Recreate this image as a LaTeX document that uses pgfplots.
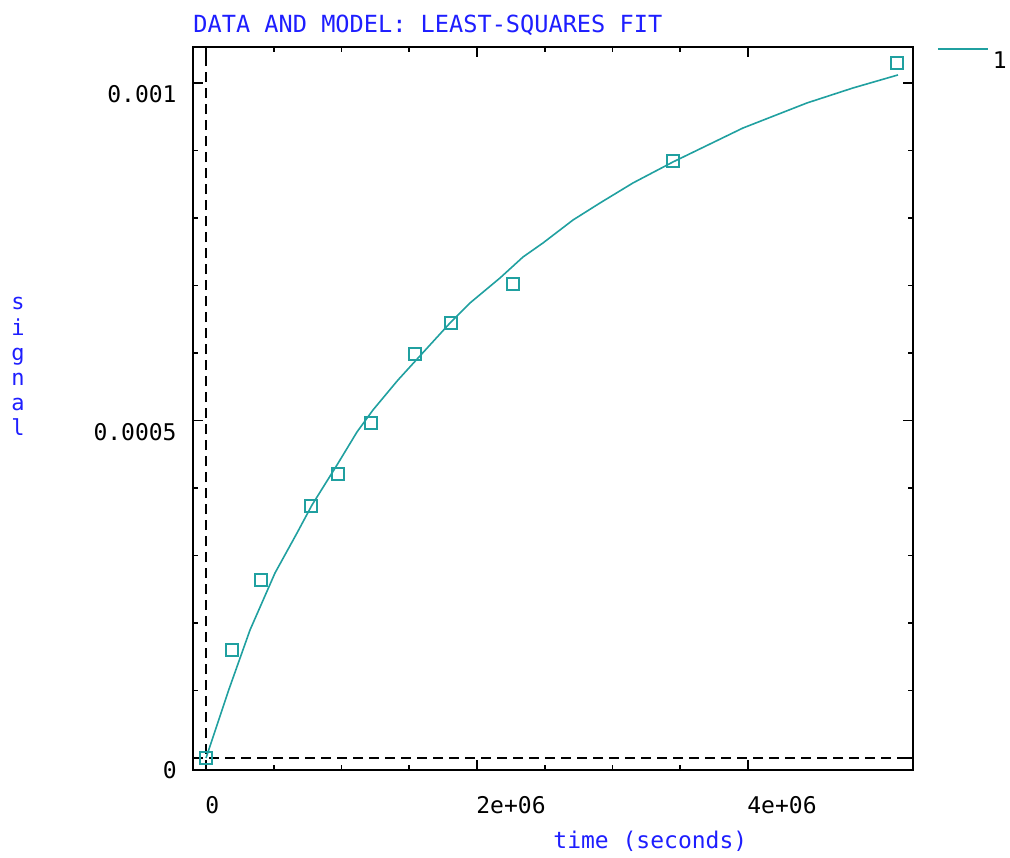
\documentclass[border=0pt]{standalone}
\usepackage{fontspec}
\setmainfont{DejaVu Sans Mono}
\usepackage{pgfplots}
\pgfplotsset{compat=1.18}
\definecolor{fitteal}{RGB}{32,160,160}
\definecolor{labblue}{RGB}{30,30,255}

\begin{document}
\begin{tikzpicture}
% picture is 1010x857 px at 0.5pt per px, origin at top left
\useasboundingbox (0,0) rectangle (505pt,-428.5pt);
\begin{axis}[
    at={(96.5pt,-385pt)}, anchor=south west,
    scale only axis,
    width=360pt, height=361.5pt,
    xmin=-96000, xmax=5218000,
    ymin=-1.778e-5, ymax=0.0010533,
    xtick={0,2000000,4000000},
    xticklabels={0,2e+06,4e+06},
    minor x tick num=3,
    ytick={0,0.0005,0.001},
    yticklabels={0,0.0005,0.001},
    minor y tick num=4,
    scaled ticks=false,
    tick align=inside,
    xtick pos=both, ytick pos=both,
    major tick length=5pt, minor tick length=2.5pt,
    axis line style={line width=1pt},
    every tick/.style={black, line width=0.8pt},
    /pgf/number format/assume math mode=true,
    font=\fontsize{11.5}{12}\selectfont,
    xticklabel style={anchor=base west, inner sep=0pt, yshift=-21.5pt, xshift=-0.5pt},
    yticklabel style={anchor=base east, inner sep=0pt, yshift=-10pt, xshift=-8pt},
    title={DATA AND MODEL: LEAST-SQUARES FIT},
    title style={labblue, at={(axis description cs:0,1.0028)}, anchor=base west, inner sep=0pt, font=\fontsize{11.8}{12}\selectfont},
    xlabel={time (seconds)},
    xlabel style={labblue, at={(axis description cs:0.5,-0.108)}, anchor=base west, inner sep=0pt},
    ylabel={s\\i\\g\\n\\a\\l},
    ylabel style={labblue, rotate=-90, align=center, at={(axis description cs:-0.243,0.654)}, anchor=north, inner sep=0pt, font=\fontsize{11}{12.6}\selectfont},
    legend style={at={(axis description cs:1.033,1.0)}, anchor=north west, draw=none, fill=none, inner sep=0pt, font=\fontsize{11.5}{12}\selectfont},
    legend image code/.code={\draw[#1] (0pt,6pt) -- (25pt,6pt);},
]
% zero lines
\addplot[black, line width=0.8pt, dash pattern=on 5pt off 3pt, forget plot] coordinates {(0,-1.778e-5) (0,0.0010533)};
\addplot[black, line width=0.8pt, dash pattern=on 5pt off 3pt, forget plot] coordinates {(-96000,0) (5218000,0)};
% data
\addplot[only marks, mark=square, mark size=3pt, fitteal, mark options={line width=1pt}, forget plot] coordinates {
(0,0) (191900,0.00016) (405900,0.0002637) (774900,0.0003733) (974200,0.0004207)
(1217700,0.0004963) (1542400,0.0005985) (1808100,0.0006444) (2265700,0.0007022)
(3446500,0.000884) (5099700,0.0010296)
};
% model
\addplot[fitteal, line width=0.8pt, no marks] coordinates {
(0,0) (162400,0.0000978) (324700,0.0001896) (509200,0.0002741) (671600,0.0003333)
(782300,0.0003748) (966800,0.0004341) (1114400,0.000483) (1232500,0.0005156)
(1417000,0.00056) (1800700,0.0006444) (1948300,0.0006741) (2169700,0.0007111)
(2339500,0.0007422) (2487100,0.000763) (2708500,0.000797) (2907700,0.0008222)
(3151300,0.0008519) (3446500,0.000883) (3963100,0.0009333) (4435400,0.0009704)
(4774900,0.0009926) (5107000,0.0010119)
};
\addlegendentry{1}
\end{axis}
\end{tikzpicture}
\end{document}
